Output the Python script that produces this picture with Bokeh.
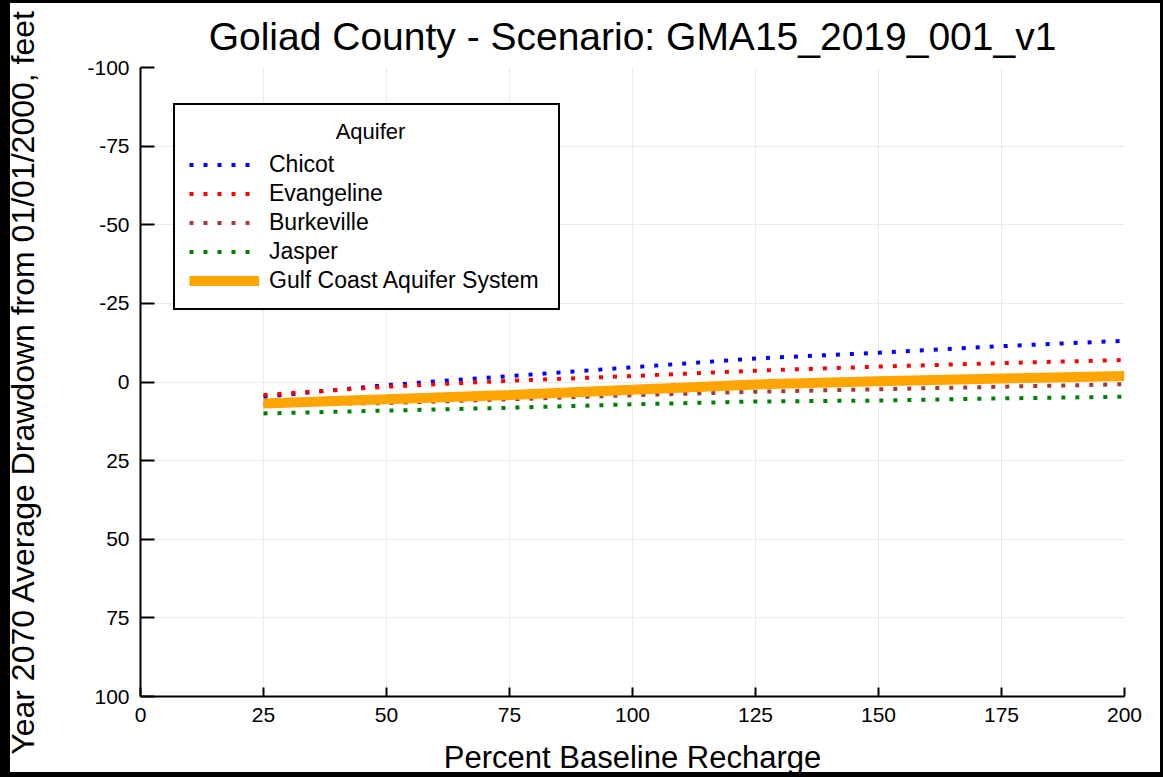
from bokeh.plotting import figure
from bokeh.models import Range1d, FixedTicker, Legend, LegendItem
from bokeh.embed import file_html
from bokeh.resources import INLINE

recharge = [25, 50, 75, 100, 125, 150, 175, 200]
chicot = [4.7, 1.0, -1.9, -4.7, -7.5, -9.3, -11.4, -13.1]
evangeline = [4.1, 1.5, -0.4, -1.9, -3.6, -4.9, -6.0, -7.0]
burkeville = [7.2, 6.7, 5.5, 4.2, 3.1, 2.3, 1.5, 0.7]
jasper = [10.0, 9.1, 8.2, 7.1, 6.2, 5.9, 5.2, 4.7]
gulf_coast = [6.8, 5.5, 4.1, 2.5, 0.8, -0.2, -1.1, -1.9]

x_ticks = [0, 25, 50, 75, 100, 125, 150, 175, 200]
y_ticks = [-100, -75, -50, -25, 0, 25, 50, 75, 100]
series_names = ["Chicot", "Evangeline", "Burkeville", "Jasper", "Gulf Coast Aquifer System"]
legend_heading = "Aquifer"

FONT = "Liberation Sans"

p = figure(width=1163, height=777, output_backend="svg", toolbar_location=None,
           x_range=Range1d(0, 200), y_range=Range1d(100, -100),
           min_border_left=140, min_border_right=39, min_border_top=67, min_border_bottom=80,
           title="Goliad County - Scenario: GMA15_2019_001_v1")
p.border_fill_color = None
p.background_fill_color = "white"
p.styles = {"box-shadow": "inset 10px 3px 0 0 black, inset -3px -5px 0 0 black",
            "background-color": "white"}

p.title.text_font = FONT
p.title.text_font_size = "39px"
p.title.text_font_style = "normal"
p.title.text_color = "black"
p.title.align = "center"
p.title.offset = 0
p.title.standoff = 20

p.outline_line_color = None
p.xgrid.grid_line_color = "#ebebeb"
p.ygrid.grid_line_color = "#ebebeb"

p.xaxis.ticker = FixedTicker(ticks=x_ticks)
p.yaxis.ticker = FixedTicker(ticks=y_ticks)
p.yaxis.major_label_overrides = {t: str(t) for t in y_ticks}
p.xaxis.major_label_overrides = {t: str(t) for t in x_ticks}
for ax in (p.xaxis[0], p.yaxis[0]):
    ax.axis_line_color = "black"
    ax.axis_line_width = 2
    ax.major_tick_line_color = "black"
    ax.major_tick_line_width = 2
    ax.major_tick_out = 0
    ax.minor_tick_line_color = None
    ax.major_label_text_font = FONT
    ax.major_label_text_font_size = "21px"
    ax.major_label_text_color = "black"
    ax.axis_label_text_font = FONT
    ax.axis_label_text_font_style = "normal"
    ax.axis_label_text_color = "black"
p.xaxis.major_tick_in = 9
p.yaxis.major_tick_in = 14
p.xaxis.major_label_standoff = 11
p.yaxis.major_label_standoff = 11
p.xaxis.axis_label = "Percent Baseline Recharge"
p.xaxis.axis_label_text_font_size = "31px"
p.xaxis.axis_label_standoff = 15
p.yaxis.axis_label = "Year 2070 Average Drawdown from 01/01/2000, feet"
p.yaxis.axis_label_text_font_size = "32px"
p.yaxis.axis_label_standoff = 43

r1 = p.line(recharge, chicot, line_color="#0000ff", line_width=4, line_dash="4 10")
r2 = p.line(recharge, evangeline, line_color="#ff0000", line_width=4, line_dash="4 10")
r3 = p.line(recharge, burkeville, line_color="#a03a3c", line_width=4, line_dash="4 10")
r4 = p.line(recharge, jasper, line_color="#008000", line_width=4, line_dash="4 10")
r5 = p.line(recharge, gulf_coast, line_color="#ffa500", line_width=10)

legend = Legend(items=[
    LegendItem(label=series_names[0], renderers=[r1]),
    LegendItem(label=series_names[1], renderers=[r2]),
    LegendItem(label=series_names[2], renderers=[r3]),
    LegendItem(label=series_names[3], renderers=[r4]),
    LegendItem(label=series_names[4], renderers=[r5]),
], location=(33, 386), title="\u00a0" * 24 + legend_heading)
legend.title_text_font = FONT
legend.title_text_font_size = "22px"
legend.title_text_font_style = "normal"
legend.title_text_color = "black"
legend.title_standoff = 6
legend.label_text_font = FONT
legend.label_text_font_size = "23px"
legend.label_text_color = "black"
legend.label_height = 23
legend.label_width = 275
legend.glyph_width = 70
legend.glyph_height = 23
legend.spacing = 2
legend.label_standoff = 10
legend.padding = 14
legend.margin = 0
legend.border_line_color = "black"
legend.border_line_alpha = 1
legend.border_line_width = 2
legend.background_fill_color = "white"
legend.background_fill_alpha = 1
p.add_layout(legend, "center")

open("out.html", "w").write(file_html(p, INLINE))
